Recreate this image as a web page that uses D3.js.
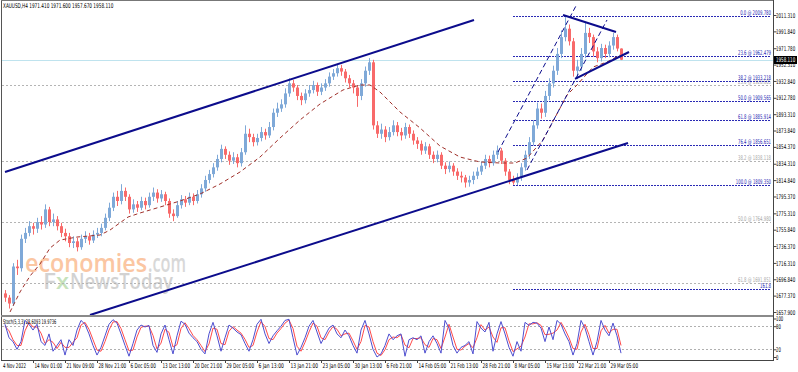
<!DOCTYPE html>
<html>
<head>
<meta charset="utf-8">
<script src="https://cdn.jsdelivr.net/npm/d3@7"></script>
<style>
  body { margin: 0; background: #fff; }
  svg { display: block; font-family: "DejaVu Sans", sans-serif; }
</style>
</head>
<body>
<div id="chart"></div>
<script>
// XAUUSD H4, one candle every 4 bars
const firstOpen = 1680;
const closes = [1675,1668,1712,1710,1745,1752,1760,1757,1765,1762,1780,1765,1768,1760,1752,1748,1740,1742,1735,1745,
  1748,1743,1750,1752,1758,1770,1782,1795,1790,1802,1795,1780,1786,1782,1790,1785,1795,1800,1793,1798,
  1790,1775,1772,1785,1792,1788,1795,1790,1798,1805,1815,1822,1830,1840,1852,1845,1838,1842,1835,1848,
  1870,1866,1860,1865,1872,1868,1878,1895,1900,1905,1918,1930,1925,1915,1910,1918,1922,1928,1920,1925,
  1930,1938,1942,1948,1944,1936,1930,1925,1915,1930,1945,1955,1880,1870,1875,1866,1872,1880,1872,1868,
  1878,1870,1862,1858,1850,1855,1845,1840,1845,1832,1828,1832,1825,1820,1818,1812,1815,1820,1825,1832,
  1840,1835,1845,1850,1838,1825,1815,1812,1818,1830,1845,1860,1880,1900,1895,1915,1930,1945,1965,1985,
  1995,1980,1945,1950,1965,1990,1985,1968,1960,1972,1965,1975,1985,1971.41,1958.11];
const highs = [1684,1678,1716,1720,1750,1758,1766,1764,1770,1772,1786,1783,1775,1772,1764,1757,1752,1748,1746,1750,
  1754,1752,1755,1758,1763,1775,1788,1800,1802,1810,1806,1798,1792,1790,1795,1794,1800,1806,1804,1803,
  1801,1793,1780,1790,1797,1796,1800,1799,1803,1810,1820,1827,1835,1845,1857,1855,1849,1848,1846,1853,
  1880,1876,1870,1870,1878,1876,1884,1900,1907,1911,1924,1936,1934,1928,1919,1923,1928,1933,1931,1930,
  1935,1943,1947,1953,1952,1947,1940,1934,1928,1935,1950,1960,1958,1885,1882,1879,1878,1886,1884,1877,
  1883,1881,1874,1866,1862,1860,1858,1849,1850,1848,1836,1837,1835,1829,1825,1821,1820,1825,1830,1837,
  1845,1844,1850,1856,1853,1841,1828,1820,1823,1835,1850,1866,1886,1907,1906,1921,1936,1951,1972,1993,
  2009.78,2000,1984,1958,1972,2002,1996,1988,1973,1977,1976,1980,1990,1988,1971.6];
const lows = [1670,1662,1665,1702,1706,1740,1748,1750,1752,1756,1758,1760,1760,1755,1747,1742,1735,1734,1730,1732,
  1740,1738,1740,1746,1748,1755,1766,1778,1784,1786,1790,1775,1776,1777,1779,1780,1782,1790,1788,1789,
  1785,1770,1766,1770,1781,1783,1785,1785,1787,1794,1801,1811,1818,1826,1836,1840,1833,1834,1830,1831,
  1845,1860,1855,1856,1861,1863,1865,1874,1890,1896,1901,1914,1920,1910,1904,1906,1914,1918,1915,1916,
  1921,1926,1934,1938,1939,1931,1925,1918,1902,1910,1926,1940,1875,1865,1864,1860,1862,1868,1867,1862,
  1864,1865,1857,1852,1845,1846,1840,1835,1836,1828,1822,1824,1820,1815,1812,1806,1807,1810,1816,1821,
  1828,1830,1832,1840,1834,1820,1810,1809.35,1809,1814,1826,1840,1856,1876,1888,1890,1910,1925,1940,1960,
  1980,1975,1938,1935,1945,1960,1978,1962,1955,1956,1960,1961,1970,1968,1957.67];

// moving average: bar -> price
const maBars = [5,15,25,35,45,55,72,95,105,123,135,155,175,195,215,235,255,275,295,315,338,355,365,375,
  395,415,435,455,475,495,510,522,538,553,562,572,588,602,615];
const maValues = [1657.9,1681.7,1700.7,1715,1734,1743.5,1747.1,1749.5,1755.4,1770.9,1775.7,1782.8,1790,1798.3,
  1810.2,1824.5,1842.3,1864.9,1886.4,1905.4,1922.1,1928,1928,1919.7,1895.9,1876.9,1855.4,1842.3,1836.4,
  1835.2,1835.2,1841.1,1862.6,1895.9,1916.1,1928,1949.4,1955.4,1963.7];

// stochastic (5,3,3), one value per candle
const stochMain = [85,50,40,20,40,95,85,70,85,40,30,60,15,30,45,5,45,30,70,95,85,60,30,5,25,55,85,97,88,60,
  30,2,35,70,83,78,82,30,12,60,83,45,8,55,93,85,62,50,40,20,8,60,90,55,15,50,83,75,65,58,
  35,15,45,85,98,60,35,55,68,80,95,98,50,5,25,50,80,95,65,35,55,75,83,60,50,70,55,30,10,70,
  95,60,20,0,8,30,60,45,55,60,2,45,50,45,55,10,40,55,35,10,95,75,30,10,25,30,40,8,92,75,
  65,90,15,60,92,60,25,2,40,15,90,82,90,88,75,40,78,45,95,85,60,40,5,35,95,75,40,5,40,95,
  70,55,88,55,10];
const stochSignal = [80,68,45,30,30,68,90,78,78,62,35,45,38,22,38,25,25,38,50,83,90,72,45,18,15,40,70,91,92,74,
  45,16,18,52,77,80,80,56,21,36,72,64,26,32,74,89,74,56,45,30,14,34,75,72,35,32,67,79,70,62,
  46,25,30,65,92,79,48,45,62,74,88,96,74,28,15,38,65,88,80,50,45,65,79,72,55,60,62,42,20,40,
  82,78,40,10,4,19,45,52,50,58,31,24,48,48,50,32,25,48,45,22,52,85,52,20,18,28,35,24,50,84,
  70,78,52,38,76,76,42,14,21,28,52,86,86,89,82,58,59,62,70,90,72,50,22,20,65,85,58,22,22,68,
  82,62,72,72,30];

const priceTicks = [2011.31,1991.84,1971.78,1952.31,1932.84,1912.78,1893.31,1873.84,1854.37,1834.31,
  1814.84,1795.37,1775.31,1755.84,1736.37,1716.31,1696.84,1677.37,1657.90];
const stochTicks = [100,80,20,0];
const timeLabels = ["14 Nov 01:00","21 Nov 09:00","28 Nov 21:00","6 Dec 05:00","13 Dec 13:00","20 Dec 21:00",
  "29 Dec 05:00","6 Jan 13:00","13 Jan 21:00","23 Jan 05:00","30 Jan 13:00","6 Feb 21:00","14 Feb 05:00",
  "21 Feb 13:00","28 Feb 21:00","8 Mar 05:00","15 Mar 13:00","22 Mar 21:00","29 Mar 05:00"];

// fibonacci retracement, low bar 508 to high
const fibLevels = ["0.0","23.6","38.2","50.0","61.8","76.4","100.0","161.8"];
const fibPrices = [2009.78,1962.479,1933.218,1909.565,1885.914,1856.651,1809.35,1685.0];
const oldFibLevels = ["23.6","38.2","50.0","61.8"];
const oldFibPrices = [1928.605,1838.118,1764.980,1691.851];

// trend lines: [bar1, price1, bar2, price2]
const channelLines = [[0,1824.5,469,2005.4],[85,1654.3,623,1859.0]];
const triangleLines = [[558,2011.3,611,1991.1],[570,1935.2,624,1967.3]];
const dashedLines = [[493,1848.3,572,2024.4],[522,1826.9,602,2005.4]];
const lastPrice = 1958.11;

const W = 798, H = 372;
const left = 2, axisX = 773, mainTop = 1, mainBottom = 315, oscTop = 317, oscBottom = 360;
const barStep = 4;

const x = d3.scaleLinear().domain([0, 768]).range([5, axisX]);
const y = d3.scaleLinear().domain([1657.9, 2011.31]).range([312, 15]);
const ys = d3.scaleLinear().domain([0, 100]).range([357, 318.5]);

// squeeze small terminal-style text into the narrow width it has in the chart
const fit = (sel, perChar) => sel.each(function () {
  const t = d3.select(this);
  t.attr("textLength", t.text().length * perChar).attr("lengthAdjust", "spacingAndGlyphs");
});

const svg = d3.select("#chart").append("svg").attr("width", W).attr("height", H);
svg.append("rect").attr("width", W).attr("height", H).attr("fill", "#fff");

const defs = svg.append("defs");
defs.append("clipPath").attr("id", "mainClip").append("rect")
  .attr("x", left).attr("y", mainTop).attr("width", axisX - left).attr("height", mainBottom - mainTop);
defs.append("clipPath").attr("id", "oscClip").append("rect")
  .attr("x", left).attr("y", oscTop).attr("width", axisX - left).attr("height", oscBottom - oscTop);

// watermark
const wm = svg.append("g").attr("font-family", "Open Sans").attr("font-weight", 600);
wm.append("text").attr("x", 25).attr("y", 272).attr("font-size", 26)
  .attr("textLength", 122).attr("lengthAdjust", "spacingAndGlyphs").attr("fill", "#fbc6a2").text("economies");
wm.append("text").attr("x", 148).attr("y", 272).attr("font-size", 26)
  .attr("textLength", 38).attr("lengthAdjust", "spacingAndGlyphs").attr("fill", "#d8d8d8").text(".com");
wm.append("text").attr("x", 43).attr("y", 289).attr("font-size", 22)
  .attr("textLength", 13).attr("lengthAdjust", "spacingAndGlyphs").attr("fill", "#d2d2d2").text("F");
wm.append("text").attr("x", 56).attr("y", 289).attr("font-size", 22)
  .attr("textLength", 13).attr("lengthAdjust", "spacingAndGlyphs").attr("fill", "#c6e2bc").text("x");
wm.append("text").attr("x", 70).attr("y", 289).attr("font-size", 22)
  .attr("textLength", 103).attr("lengthAdjust", "spacingAndGlyphs").attr("fill", "#d2d2d2").text("NewsToday");

const main = svg.append("g").attr("clip-path", "url(#mainClip)");

// old (grey) fibo levels across the whole chart
const oldFib = main.append("g");
oldFib.selectAll("line").data(oldFibPrices).join("line")
  .attr("x1", left).attr("x2", axisX - 2)
  .attr("y1", d => Math.round(y(d)) + 0.5).attr("y2", d => Math.round(y(d)) + 0.5)
  .attr("stroke", "#b4b4b4").attr("stroke-width", 1).attr("stroke-dasharray", "2,2");
oldFib.selectAll("text").data(oldFibPrices).join("text")
  .attr("x", axisX - 2).attr("y", d => Math.round(y(d)) - 1)
  .attr("text-anchor", "end").attr("font-size", 6.5).attr("fill", "#a8a8a8")
  .text((d, i) => oldFibLevels[i] + " @ " + d.toFixed(3))
  .call(fit, 2.2);

// current price line
main.append("line").attr("x1", left).attr("x2", axisX)
  .attr("y1", Math.round(y(lastPrice)) + 0.5).attr("y2", Math.round(y(lastPrice)) + 0.5)
  .attr("stroke", "#bfe3ee").attr("stroke-width", 1);

// blue fibo levels
const fib = main.append("g");
fib.selectAll("line").data(fibPrices).join("line")
  .attr("x1", x(508)).attr("x2", axisX - 2)
  .attr("y1", d => Math.round(y(d)) + 0.5).attr("y2", d => Math.round(y(d)) + 0.5)
  .attr("stroke", "#2a2ab4").attr("stroke-width", 1).attr("stroke-dasharray", "2,1");
fib.selectAll("text").data(fibPrices).join("text")
  .attr("x", axisX - 2).attr("y", d => Math.round(y(d)) - 1)
  .attr("text-anchor", "end").attr("font-size", 6.5).attr("fill", "#2a2ab4")
  .text((d, i) => fibLevels[i] === "161.8" ? "161.8" : fibLevels[i] + " @ " + d.toFixed(3))
  .call(fit, 2.2);

// candles
const candles = closes.map((c, i) => ({
  bar: i * barStep,
  open: i === 0 ? firstOpen : closes[i - 1],
  close: c, high: highs[i], low: lows[i]
}));
const cg = main.append("g");
cg.selectAll("line").data(candles).join("line")
  .attr("x1", d => Math.round(x(d.bar)) + 0.5).attr("x2", d => Math.round(x(d.bar)) + 0.5)
  .attr("y1", d => y(d.high)).attr("y2", d => y(d.low))
  .attr("stroke", d => d.close >= d.open ? "#7fa9d8" : "#f86a6a").attr("stroke-width", 1);
cg.selectAll("rect").data(candles).join("rect")
  .attr("x", d => Math.round(x(d.bar)) - 1).attr("width", 3)
  .attr("y", d => y(Math.max(d.open, d.close)))
  .attr("height", d => Math.max(1, Math.abs(y(d.open) - y(d.close))))
  .attr("fill", d => d.close >= d.open ? "#7fa9d8" : "#f86a6a");

// moving average
const maLine = d3.line().x((d, i) => x(maBars[i])).y(d => y(d));
main.append("path").attr("d", maLine(maValues)).attr("fill", "none")
  .attr("stroke", "#a0302a").attr("stroke-width", 1).attr("stroke-dasharray", "4,3");

// trend lines
const seg = (sel, data, width, dash) => sel.selectAll(null).data(data).join("line")
  .attr("x1", d => x(d[0])).attr("y1", d => y(d[1])).attr("x2", d => x(d[2])).attr("y2", d => y(d[3]))
  .attr("stroke", "#0c0c8c").attr("stroke-width", width).attr("stroke-dasharray", dash);
seg(main.append("g"), channelLines, 2, null);
seg(main.append("g"), triangleLines, 2, null);
seg(main.append("g"), dashedLines, 1, "5,3");

// stochastic panel
const osc = svg.append("g").attr("clip-path", "url(#oscClip)");
osc.selectAll("line.lvl").data([80, 20]).join("line").attr("class", "lvl")
  .attr("x1", left).attr("x2", axisX)
  .attr("y1", d => Math.round(ys(d)) + 0.5).attr("y2", d => Math.round(ys(d)) + 0.5)
  .attr("stroke", "#b0b0b0").attr("stroke-dasharray", "2,2");
const stLine = d3.line().x((d, i) => x(i * barStep)).y(d => ys(d));
osc.append("path").attr("d", stLine(stochSignal)).attr("fill", "none").attr("stroke", "#ff4a4a").attr("stroke-width", 1);
osc.append("path").attr("d", stLine(stochMain)).attr("fill", "none").attr("stroke", "#4e4ed0").attr("stroke-width", 1);

// frame
svg.append("line").attr("x1", 1.5).attr("x2", 1.5).attr("y1", 0).attr("y2", oscBottom).attr("stroke", "#555");
svg.append("line").attr("x1", 1).attr("x2", axisX).attr("y1", 0.5).attr("y2", 0.5).attr("stroke", "#777");
svg.append("line").attr("x1", axisX + 0.5).attr("x2", axisX + 0.5).attr("y1", 0).attr("y2", oscBottom + 1).attr("stroke", "#444");
svg.append("rect").attr("x", 1).attr("y", 315).attr("width", axisX - 1).attr("height", 2).attr("fill", "#8a8a8a");
svg.append("line").attr("x1", 1).attr("x2", axisX).attr("y1", oscBottom + 0.5).attr("y2", oscBottom + 0.5).attr("stroke", "#444");

// price axis
const yAxis = d3.axisRight(y).tickValues(priceTicks).tickSize(3).tickFormat(d3.format(".3f"));
const ya = svg.append("g").attr("transform", `translate(${axisX + 0.5},0)`).call(yAxis);
ya.select(".domain").remove();
ya.selectAll("text").attr("font-size", 6.5).attr("font-family", "DejaVu Sans").attr("fill", "#000")
  .attr("x", 2.5).call(fit, 2.4);
ya.selectAll("line").attr("stroke", "#444");

const box = svg.append("g").attr("transform", `translate(${axisX + 1},${Math.round(y(lastPrice))})`);
box.append("rect").attr("x", 0).attr("y", -4).attr("width", 23).attr("height", 8).attr("fill", "#000");
box.append("text").attr("x", 2).attr("y", 2.4).attr("font-size", 6.5).attr("fill", "#fff")
  .text(lastPrice.toFixed(3)).call(fit, 2.4);

const sAxis = d3.axisRight(ys).tickValues(stochTicks).tickSize(3).tickFormat(d3.format("d"));
const sa = svg.append("g").attr("transform", `translate(${axisX + 0.5},0)`).call(sAxis);
sa.select(".domain").remove();
sa.selectAll("text").attr("font-size", 6.5).attr("font-family", "DejaVu Sans").attr("fill", "#000")
  .attr("x", 2.5).call(fit, 2.4);
sa.selectAll("line").attr("stroke", "#444");

// time axis
const tg = svg.append("g").attr("font-size", 6.5).attr("fill", "#000");
tg.append("text").attr("x", 3).attr("y", 368).text("4 Nov 2022").call(fit, 2.3);
const tl = tg.selectAll("g.t").data(timeLabels).join("g").attr("class", "t")
  .attr("transform", (d, i) => `translate(${Math.round(x(28 + i * 32)) + 0.5},0)`);
tl.append("line").attr("y1", oscBottom).attr("y2", oscBottom + 3).attr("stroke", "#444");
tl.append("text").attr("x", 1).attr("y", 368).text(d => d).call(fit, 2.3);

// labels
svg.append("text").attr("x", 3).attr("y", 8).attr("font-size", 6.5).attr("fill", "#000")
  .text("XAUUSD,H4  1971.410 1971.600 1957.670 1958.110").call(fit, 2.4);
svg.append("text").attr("x", 3).attr("y", 324).attr("font-size", 6.5).attr("fill", "#000")
  .text("Stoch(5,3,3) 28.6093 19.9736").call(fit, 1.9);
</script>
</body>
</html>
